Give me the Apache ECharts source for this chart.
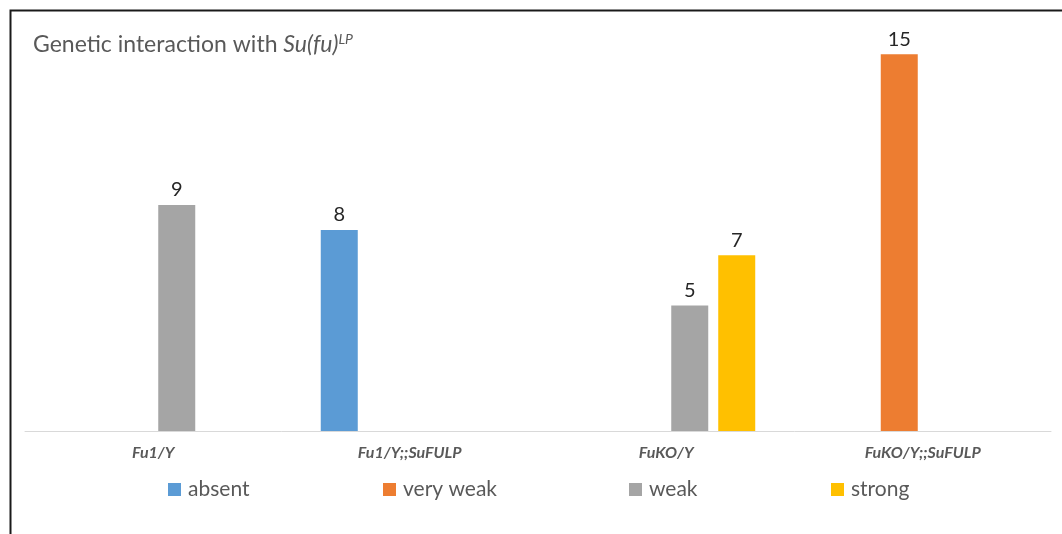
<!DOCTYPE html>
<html><head><meta charset="utf-8">
<script src="https://cdn.jsdelivr.net/npm/echarts@6/dist/echarts.min.js"></script>
<style>html,body{margin:0;padding:0;background:#fff}#c{width:1062px;height:534px}</style>
</head><body><div id="c"></div>
<script>
const categories = ['Fu1/Y', 'Fu1/Y;;SuFULP', 'FuKO/Y', 'FuKO/Y;;SuFULP'];
const seriesNames = ['absent', 'very weak', 'weak', 'strong'];
const absent = [null, 8, null, null];
const veryWeak = [null, null, null, 15];
const weak = [9, null, 5, null];
const strong = [null, null, 7, null];
const colors = ['#5B9BD5', '#ED7D31', '#A5A5A5', '#FFC000'];
const values = [absent, veryWeak, weak, strong];
const legendLeft = [168, 383, 629, 831];

const chart = echarts.init(document.getElementById('c'));
const font = 'Lato, "Open Sans", sans-serif';
chart.setOption({
  animation: false,
  textStyle: {fontFamily: font},
  title: {
    left: 33, top: 32, padding: 0,
    text: '{n|Genetic interaction with }{i|Su(fu)}{s|LP}',
    textStyle: {
      fontWeight: 'normal',
      rich: {
        n: {fontFamily: font, fontSize: 23, color: '#595959', fontWeight: 'normal'},
        i: {fontFamily: font, fontSize: 23, color: '#595959', fontStyle: 'italic', fontWeight: 'normal'},
        s: {fontFamily: font, fontSize: 14, color: '#595959', fontStyle: 'italic', fontWeight: 'normal', padding: [0, 0, 12, 0]}
      }
    }
  },
  legend: seriesNames.map((n, i) => ({
    data: [n], left: legendLeft[i], top: 479, padding: 0,
    itemWidth: 13, itemHeight: 13, icon: 'rect', itemGap: 0,
    textStyle: {fontFamily: font, fontSize: 21, color: '#595959', padding: [0, 0, 0, 2]}
  })),
  grid: {left: 25, right: 11, top: 29, bottom: 103},
  xAxis: {
    type: 'category', data: categories,
    axisLine: {lineStyle: {color: '#D9D9D9', width: 1}},
    axisTick: {show: false},
    axisLabel: {fontFamily: font, fontSize: 16, fontWeight: 'bold', fontStyle: 'italic', color: '#595959', margin: 14}
  },
  yAxis: {type: 'value', min: 0, max: 16, show: false, splitLine: {show: false}},
  graphic: [{
    type: 'rect', left: 8, top: 8, shape: {x: 0, y: 0, width: 1200, height: 700},
    style: {fill: 'none', stroke: '#1a1a1a', lineWidth: 2}, silent: true
  }],
  series: seriesNames.map((n, i) => ({
    name: n, type: 'bar', data: values[i],
    barWidth: 37, barGap: '27%', barCategoryGap: '30%',
    itemStyle: {color: colors[i]},
    label: {show: true, position: 'top', distance: 5, fontFamily: font, fontSize: 20, color: '#262626'}
  }))
});
</script></body></html>
